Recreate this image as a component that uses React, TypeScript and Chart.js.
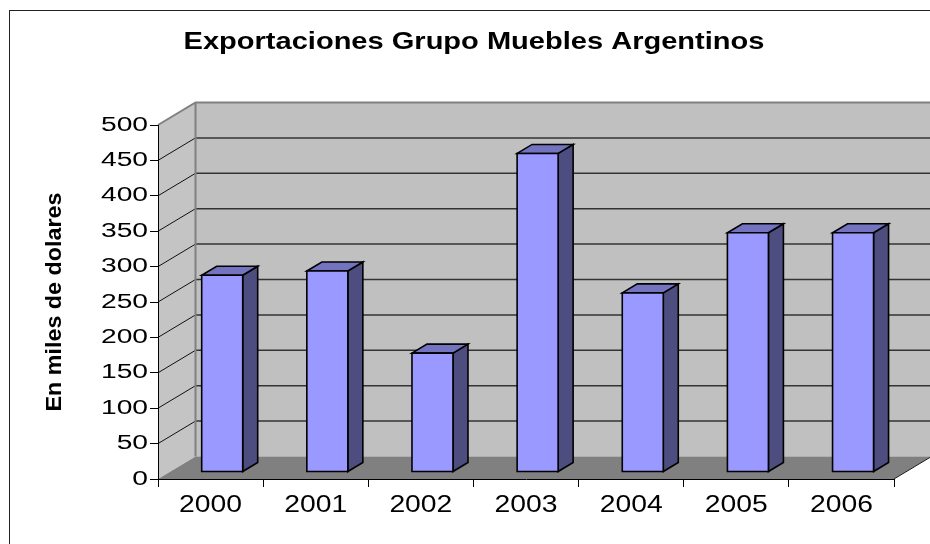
import React, { useEffect, useRef } from "react";
import { Chart, registerables } from "chart.js";

Chart.register(...registerables);

// ---- data ----
const CATEGORIES = ["2000", "2001", "2002", "2003", "2004", "2005", "2006"];
const EXPORTS = [278, 284, 168, 450, 253, 338, 338];
const Y_MIN = 0;
const Y_MAX = 500;
const Y_STEP = 50;
const TITLE = "Exportaciones Grupo Muebles Argentinos";
const Y_TITLE = "En miles de dolares";

// ---- styles ----
const FONT = "'Liberation Sans', Arial, Helvetica, sans-serif";
// horizontal stretch per font size (mimics the widened Excel text)
const STRETCH: Record<number, number> = { 24: 1.21, 22: 1.06, 20: 1.41, 23: 1.23 };
const WALL = { dx: 37.5, dy: -22.5 };
const BAR_FRONT = 0.31;
const BAR_BACK = 0.71;

const scene3d = {
  id: "scene3d",
  beforeDraw(chart: any) {
    const ctx: CanvasRenderingContext2D = chart.ctx;
    if (!(ctx as any)._stretchPatched) {
      const orig = ctx.fillText.bind(ctx);
      (ctx as any).fillText = function (text: string, x: number, y: number, maxWidth?: number) {
        const m = /(\d+(?:\.\d+)?)px/.exec(ctx.font);
        const size = m ? Math.round(parseFloat(m[1])) : 0;
        const sx = STRETCH[size] ?? 1;
        if (sx === 1) {
          if (maxWidth === undefined) orig(text, x, y);
          else orig(text, x, y, maxWidth);
          return;
        }
        ctx.save();
        ctx.translate(x, y);
        ctx.scale(sx, 1);
        if (maxWidth === undefined) orig(text, 0, 0);
        else orig(text, 0, 0, maxWidth);
        ctx.restore();
      };
      (ctx as any)._stretchPatched = true;
    }
    const ys = chart.scales.y;
    const L = chart.chartArea.left;
    const R = chart.chartArea.right;
    const B = ys.getPixelForValue(Y_MIN);
    const T = ys.getPixelForValue(Y_MAX);
    const { dx, dy } = WALL;
    ctx.save();
    // outer frame
    ctx.strokeStyle = "#222";
    ctx.lineWidth = 1;
    ctx.strokeRect(9.5, 10.5, 2000, 2000);
    // back wall
    ctx.fillStyle = "#C0C0C0";
    ctx.fillRect(L + dx, T + dy, R - L + 10, B - T);
    // left wall
    ctx.fillStyle = "#C4C4C4";
    ctx.beginPath();
    ctx.moveTo(L, B);
    ctx.lineTo(L, T);
    ctx.lineTo(L + dx, T + dy);
    ctx.lineTo(L + dx, B + dy);
    ctx.closePath();
    ctx.fill();
    // floor
    ctx.fillStyle = "#808080";
    ctx.beginPath();
    ctx.moveTo(L, B);
    ctx.lineTo(R, B);
    ctx.lineTo(R + dx, B + dy);
    ctx.lineTo(L + dx, B + dy);
    ctx.closePath();
    ctx.fill();
    // floor right edge
    ctx.strokeStyle = "#222";
    ctx.lineWidth = 1;
    ctx.beginPath();
    ctx.moveTo(R, B);
    ctx.lineTo(R + dx, B + dy);
    ctx.stroke();
    // gridlines
    for (let v = Y_MIN + Y_STEP; v < Y_MAX; v += Y_STEP) {
      const py = ys.getPixelForValue(v);
      ctx.strokeStyle = "#333";
      ctx.lineWidth = 1.5;
      ctx.beginPath();
      ctx.moveTo(L + dx, py + dy);
      ctx.lineTo(R + dx + 10, py + dy);
      ctx.stroke();
      ctx.strokeStyle = "#111";
      ctx.lineWidth = 1;
      ctx.beginPath();
      ctx.moveTo(L, py);
      ctx.lineTo(L + dx, py + dy);
      ctx.stroke();
    }
    // wall edges
    ctx.strokeStyle = "#808080";
    ctx.lineWidth = 2;
    ctx.beginPath();
    ctx.moveTo(L, T);
    ctx.lineTo(L + dx, T + dy);
    ctx.lineTo(R + dx + 10, T + dy);
    ctx.moveTo(L + dx, T + dy);
    ctx.lineTo(L + dx, B + dy);
    ctx.stroke();
    ctx.restore();
  },
  afterDatasetsDraw(chart: any) {
    const ctx: CanvasRenderingContext2D = chart.ctx;
    const meta = chart.getDatasetMeta(0);
    const fx = WALL.dx * BAR_FRONT, fy = WALL.dy * BAR_FRONT;
    const ddx = WALL.dx * (BAR_BACK - BAR_FRONT), ddy = WALL.dy * (BAR_BACK - BAR_FRONT);
    ctx.save();
    ctx.lineWidth = 1.6;
    ctx.strokeStyle = "#000";
    ctx.lineJoin = "miter";
    meta.data.forEach((bar: any) => {
      const { x, y, base, width } = bar.getProps(["x", "y", "base", "width"], true);
      const x0 = x - width / 2 + fx;
      const x1 = x + width / 2 + fx;
      const yT = y + fy;
      const yB = base + fy;
      // side
      ctx.fillStyle = "#4D4D80";
      ctx.beginPath();
      ctx.moveTo(x1, yT);
      ctx.lineTo(x1 + ddx, yT + ddy);
      ctx.lineTo(x1 + ddx, yB + ddy);
      ctx.lineTo(x1, yB);
      ctx.closePath();
      ctx.fill();
      ctx.stroke();
      // top
      ctx.fillStyle = "#7373BF";
      ctx.beginPath();
      ctx.moveTo(x0, yT);
      ctx.lineTo(x1, yT);
      ctx.lineTo(x1 + ddx, yT + ddy);
      ctx.lineTo(x0 + ddx, yT + ddy);
      ctx.closePath();
      ctx.fill();
      ctx.stroke();
      // front
      ctx.fillStyle = "#9999FF";
      ctx.beginPath();
      ctx.rect(x0, yT, x1 - x0, yB - yT);
      ctx.fill();
      ctx.stroke();
    });
    ctx.restore();
  },
};

export default function App() {
  const ref = useRef<HTMLCanvasElement | null>(null);
  useEffect(() => {
    if (!ref.current) return;
    const chart = new Chart(ref.current, {
      type: "bar",
      data: {
        labels: CATEGORIES,
        datasets: [
          {
            label: "Exportaciones",
            data: EXPORTS,
            backgroundColor: "rgba(0,0,0,0)",
            borderWidth: 0,
            categoryPercentage: 1,
            barPercentage: 0.39,
          },
        ],
      },
      options: {
        responsive: false,
        animation: false,
        devicePixelRatio: 1,
        layout: { padding: { left: 18, right: 0, top: 0, bottom: 0 } },
        plugins: {
          legend: { display: false },
          tooltip: { enabled: false },
          title: {
            display: true,
            text: TITLE,
            color: "#000",
            font: { family: FONT, size: 24, weight: "bold" },
            padding: { top: 28, bottom: 68.2 },
          },
        },
        scales: {
          x: {
            grid: {
              offset: true,
              drawOnChartArea: false,
              drawTicks: true,
              tickLength: 8,
              color: "#000",
            },
            border: { display: true, color: "#000", width: 1 },
            ticks: { color: "#000", font: { family: FONT, size: 23 }, padding: 5, maxRotation: 0, autoSkip: false },
            afterFit: (s: any) => {
              s.height = 65;
            },
          },
          y: {
            min: Y_MIN,
            max: Y_MAX,
            grid: { drawOnChartArea: false, drawTicks: true, tickLength: 8, color: "#000" },
            border: { display: true, color: "#000", width: 1 },
            ticks: { stepSize: Y_STEP, color: "#000", font: { family: FONT, size: 20 }, padding: 2 },
            title: {
              display: true,
              text: Y_TITLE,
              color: "#000",
              font: { family: FONT, size: 22, weight: "bold" },
              padding: { top: 24.2, bottom: 0 },
            },
            afterFit: (s: any) => {
              s.width = 140;
            },
          },
          yR: {
            type: "linear",
            position: "right",
            display: true,
            grid: { display: false, drawTicks: false },
            border: { display: false },
            ticks: { display: false },
            afterFit: (s: any) => {
              s.width = 36;
            },
          },
        },
      },
      plugins: [scene3d],
    } as any);
    return () => chart.destroy();
  }, []);
  return (
    <div style={{ position: "absolute", left: 0, top: 0, width: 930, height: 544, background: "#fff" }}>
      <canvas ref={ref} width={930} height={544} style={{ display: "block" }} />
    </div>
  );
}
